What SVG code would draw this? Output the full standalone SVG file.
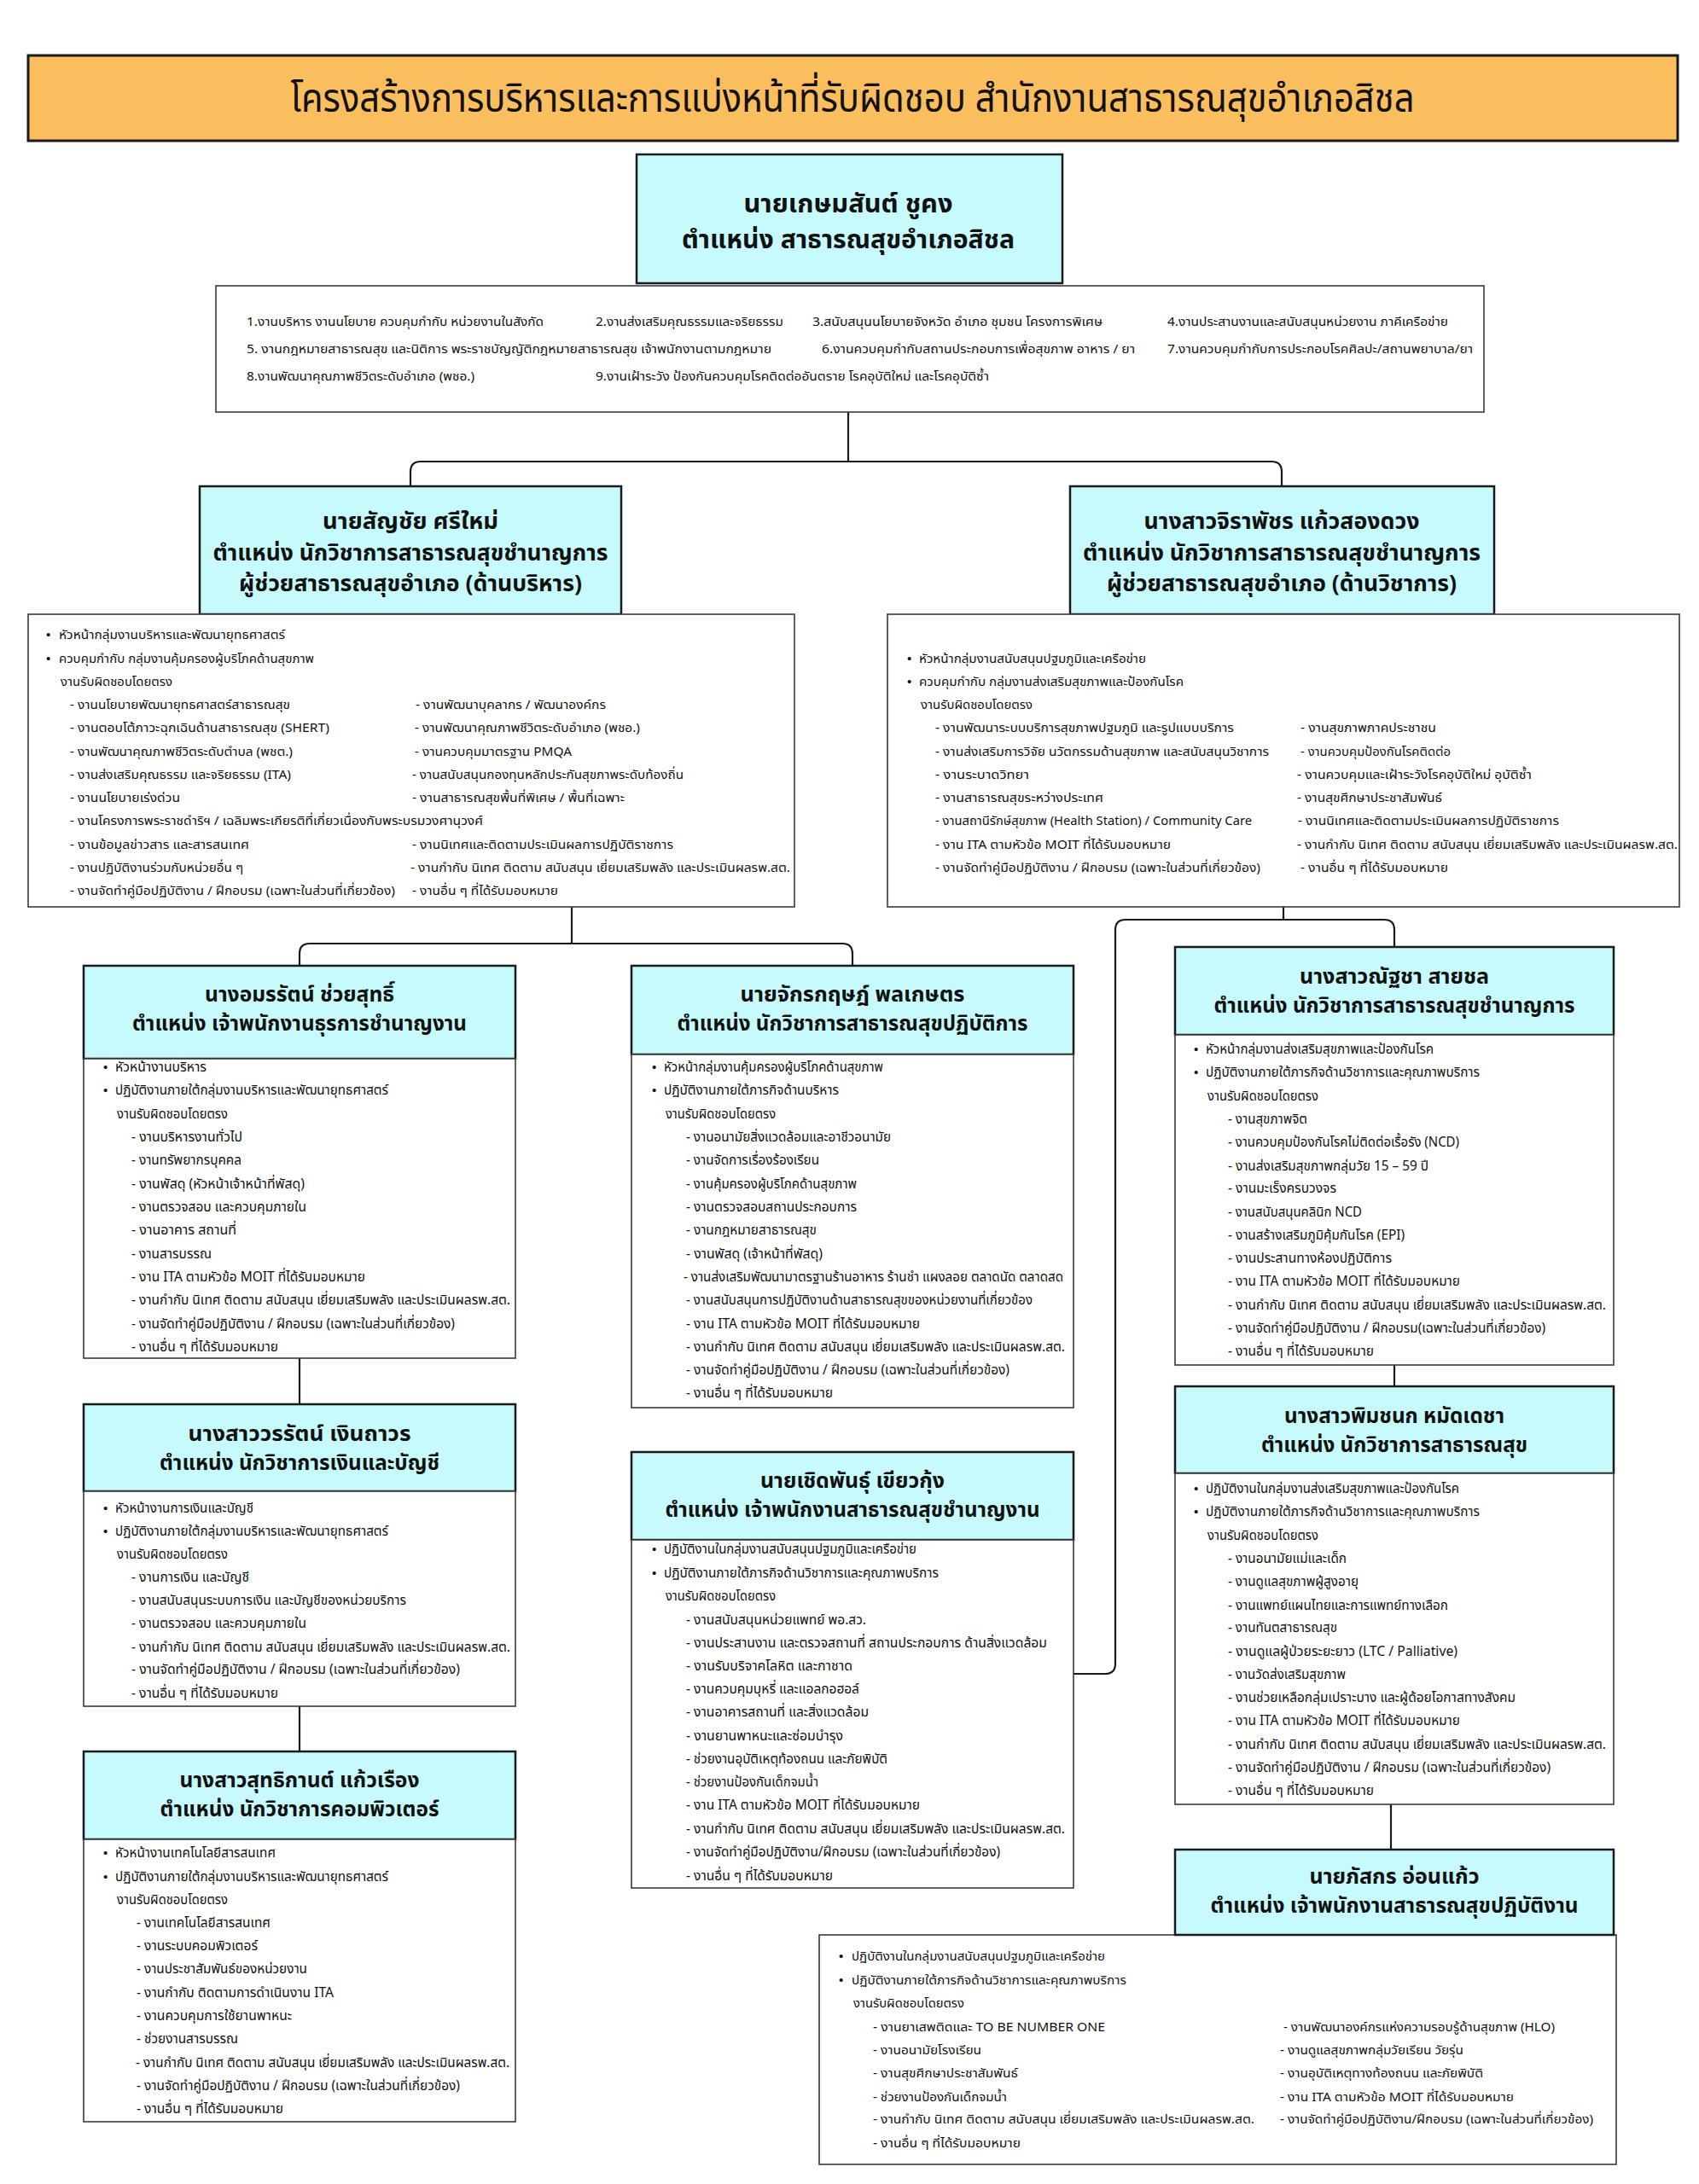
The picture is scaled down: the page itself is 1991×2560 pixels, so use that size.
<svg xmlns="http://www.w3.org/2000/svg" width="1991" height="2560" viewBox="0 0 1991 2560">
<style>
.bg{fill:#ffffff}
.ttl{fill:#FBBE5E;stroke:#1a1a1a;stroke-width:3}
.hd{fill:#C6FAFC;stroke:#1a1a1a;stroke-width:2.5}
.dt{fill:#ffffff;stroke:#3a3a3a;stroke-width:1.6}
.ln{fill:none;stroke:#1a1a1a;stroke-width:2.2}
text{font-family:"Noto Sans Thai","Noto Sans Thai UI","Noto Sans","DejaVu Sans",sans-serif;fill:#111}
.t{font-size:46px}
.h1{font-size:30px;font-weight:bold;text-anchor:middle}
.h2{font-size:26px;font-weight:bold;text-anchor:middle}
.h3{font-size:24.5px;font-weight:bold;text-anchor:middle}
.c{font-size:14.5px}
.b{font-size:16px}
.u{font-family:"Liberation Sans",sans-serif;font-size:15px}
</style>
<rect class="bg" x="0" y="0" width="1991" height="2560"/>

<g id="connectors">
<path class="ln" d="M994 483 V541"/>
<path class="ln" d="M481 570 V553 Q481 541 493 541 H1490 Q1502 541 1502 553 V570"/>
<path class="ln" d="M670 1063 V1106"/>
<path class="ln" d="M351 1132 V1118 Q351 1106 363 1106 H987 Q999 1106 999 1118 V1132"/>
<path class="ln" d="M1504 1063 V1078"/>
<path class="ln" d="M1258 1962 H1295 Q1307 1962 1307 1950 V1090 Q1307 1078 1319 1078 H1622 Q1634 1078 1634 1090 V1110"/>
<path class="ln" d="M351 1592 V1646"/>
<path class="ln" d="M351 2000 V2053"/>
<path class="ln" d="M1634 1600 V1625"/>
<path class="ln" d="M1630 2115 V2168"/>
</g>

<g id="title">
<rect class="ttl" x="33" y="65" width="1933" height="100"/>
<text class="t" x="999" y="131" text-anchor="middle" textLength="1317" lengthAdjust="spacingAndGlyphs">โครงสร้างการบริหารและการแบ่งหน้าที่รับผิดชอบ สำนักงานสาธารณสุขอำเภอสิชล</text>
</g>

<g id="node-kasemsan">
<rect class="hd" x="746" y="181" width="499" height="151"/>
<text class="h1" x="994" y="249" textLength="245" lengthAdjust="spacingAndGlyphs">นายเกษมสันต์  ชูคง</text>
<text class="h1" x="994" y="291" textLength="390" lengthAdjust="spacingAndGlyphs">ตำแหน่ง สาธารณสุขอำเภอสิชล</text>
<rect class="dt" x="253" y="335" width="1486" height="148"/>
<text class="c" x="289" y="382" textLength="348" lengthAdjust="spacingAndGlyphs">1.งานบริหาร งานนโยบาย ควบคุมกำกับ หน่วยงานในสังกัด</text>
<text class="c" x="698" y="382" textLength="220" lengthAdjust="spacingAndGlyphs">2.งานส่งเสริมคุณธรรมและจริยธรรม</text>
<text class="c" x="952" y="382" textLength="340" lengthAdjust="spacingAndGlyphs">3.สนับสนุนนโยบายจังหวัด อำเภอ ชุมชน โครงการพิเศษ</text>
<text class="c" x="1368" y="382" textLength="329" lengthAdjust="spacingAndGlyphs">4.งานประสานงานและสนับสนุนหน่วยงาน ภาคีเครือข่าย</text>
<text class="c" x="289" y="414" textLength="615" lengthAdjust="spacingAndGlyphs">5. งานกฎหมายสาธารณสุข และนิติการ พระราชบัญญัติกฎหมายสาธารณสุข  เจ้าพนักงานตามกฎหมาย</text>
<text class="c" x="963" y="414" textLength="367" lengthAdjust="spacingAndGlyphs">6.งานควบคุมกำกับสถานประกอบการเพื่อสุขภาพ อาหาร / ยา</text>
<text class="c" x="1368" y="414" textLength="358" lengthAdjust="spacingAndGlyphs">7.งานควบคุมกำกับการประกอบโรคศิลปะ/สถานพยาบาล/ยา</text>
<text class="c" x="289" y="446" textLength="267" lengthAdjust="spacingAndGlyphs">8.งานพัฒนาคุณภาพชีวิตระดับอำเภอ (พชอ.)</text>
<text class="c" x="698" y="446" textLength="461" lengthAdjust="spacingAndGlyphs">9.งานเฝ้าระวัง ป้องกันควบคุมโรคติดต่ออันตราย โรคอุบัติใหม่ และโรคอุบัติซ้ำ</text>
</g>

<g id="node-sanchai">
<rect class="hd" x="234" y="570" width="494" height="150"/>
<text class="h2" x="481" y="620" textLength="206" lengthAdjust="spacingAndGlyphs">นายสัญชัย  ศรีใหม่</text>
<text class="h2" x="481" y="657" textLength="463" lengthAdjust="spacingAndGlyphs">ตำแหน่ง นักวิชาการสาธารณสุขชำนาญการ</text>
<text class="h2" x="481" y="693" textLength="402" lengthAdjust="spacingAndGlyphs">ผู้ช่วยสาธารณสุขอำเภอ (ด้านบริหาร)</text>
<rect class="dt" x="33" y="720" width="898" height="343"/>
<text class="u" x="54" y="748.5">•</text>
<text class="c" x="69" y="748.5" textLength="265" lengthAdjust="spacingAndGlyphs">หัวหน้ากลุ่มงานบริหารและพัฒนายุทธศาสตร์</text>
<text class="u" x="54" y="776.5">•</text>
<text class="c" x="69" y="776.5" textLength="299" lengthAdjust="spacingAndGlyphs">ควบคุมกำกับ กลุ่มงานคุ้มครองผู้บริโภคด้านสุขภาพ</text>
<text class="c" x="71" y="803.5" textLength="131" lengthAdjust="spacingAndGlyphs">งานรับผิดชอบโดยตรง</text>
<text class="c" x="82" y="830.5" textLength="258" lengthAdjust="spacingAndGlyphs">- งานนโยบายพัฒนายุทธศาสตร์สาธารณสุข</text>
<text class="c" x="487" y="830.5" textLength="223" lengthAdjust="spacingAndGlyphs">- งานพัฒนาบุคลากร / พัฒนาองค์กร</text>
<text class="c" x="82" y="857.5" textLength="304" lengthAdjust="spacingAndGlyphs">- งานตอบโต้ภาวะฉุกเฉินด้านสาธารณสุข (SHERT)</text>
<text class="c" x="486" y="857.5" textLength="264" lengthAdjust="spacingAndGlyphs">- งานพัฒนาคุณภาพชีวิตระดับอำเภอ (พชอ.)</text>
<text class="c" x="82" y="885.5" textLength="261" lengthAdjust="spacingAndGlyphs">- งานพัฒนาคุณภาพชีวิตระดับตำบล (พชต.)</text>
<text class="c" x="486" y="885.5" textLength="184" lengthAdjust="spacingAndGlyphs">- งานควบคุมมาตรฐาน PMQA</text>
<text class="c" x="82" y="912.5" textLength="259" lengthAdjust="spacingAndGlyphs">- งานส่งเสริมคุณธรรม และจริยธรรม (ITA)</text>
<text class="c" x="483" y="912.5" textLength="318" lengthAdjust="spacingAndGlyphs">- งานสนับสนุนกองทุนหลักประกันสุขภาพระดับท้องถิ่น</text>
<text class="c" x="82" y="939.5" textLength="129" lengthAdjust="spacingAndGlyphs">- งานนโยบายเร่งด่วน</text>
<text class="c" x="483" y="939.5" textLength="249" lengthAdjust="spacingAndGlyphs">- งานสาธารณสุขพื้นที่พิเศษ / พื้นที่เฉพาะ</text>
<text class="c" x="82" y="966.5" textLength="484" lengthAdjust="spacingAndGlyphs">- งานโครงการพระราชดำริฯ / เฉลิมพระเกียรติที่เกี่ยวเนื่องกับพระบรมวงศานุวงศ์</text>
<text class="c" x="82" y="994.5" textLength="210" lengthAdjust="spacingAndGlyphs">- งานข้อมูลข่าวสาร และสารสนเทศ</text>
<text class="c" x="483" y="994.5" textLength="306" lengthAdjust="spacingAndGlyphs">- งานนิเทศและติดตามประเมินผลการปฏิบัติราชการ</text>
<text class="c" x="82" y="1021.5" textLength="203" lengthAdjust="spacingAndGlyphs">- งานปฏิบัติงานร่วมกับหน่วยอื่น ๆ</text>
<text class="c" x="481" y="1021.5" textLength="445" lengthAdjust="spacingAndGlyphs">- งานกำกับ นิเทศ ติดตาม สนับสนุน เยี่ยมเสริมพลัง และประเมินผลรพ.สต.</text>
<text class="c" x="82" y="1048.5" textLength="381" lengthAdjust="spacingAndGlyphs">- งานจัดทำคู่มือปฏิบัติงาน / ฝึกอบรม (เฉพาะในส่วนที่เกี่ยวข้อง)</text>
<text class="c" x="483" y="1048.5" textLength="171" lengthAdjust="spacingAndGlyphs">- งานอื่น ๆ ที่ได้รับมอบหมาย</text>
</g>

<g id="node-jiraphat">
<rect class="hd" x="1254" y="570" width="497" height="150"/>
<text class="h2" x="1502" y="620" textLength="323" lengthAdjust="spacingAndGlyphs">นางสาวจิราพัชร  แก้วสองดวง</text>
<text class="h2" x="1502" y="657" textLength="466" lengthAdjust="spacingAndGlyphs">ตำแหน่ง นักวิชาการสาธารณสุขชำนาญการ</text>
<text class="h2" x="1502" y="693" textLength="410" lengthAdjust="spacingAndGlyphs">ผู้ช่วยสาธารณสุขอำเภอ (ด้านวิชาการ)</text>
<rect class="dt" x="1040" y="720" width="928" height="343"/>
<text class="u" x="1063" y="776.5">•</text>
<text class="c" x="1077" y="776.5" textLength="266" lengthAdjust="spacingAndGlyphs">หัวหน้ากลุ่มงานสนับสนุนปฐมภูมิและเครือข่าย</text>
<text class="u" x="1063" y="803.5">•</text>
<text class="c" x="1077" y="803.5" textLength="310" lengthAdjust="spacingAndGlyphs">ควบคุมกำกับ กลุ่มงานส่งเสริมสุขภาพและป้องกันโรค</text>
<text class="c" x="1079" y="830.5" textLength="131" lengthAdjust="spacingAndGlyphs">งานรับผิดชอบโดยตรง</text>
<text class="c" x="1096" y="857.5" textLength="350" lengthAdjust="spacingAndGlyphs">- งานพัฒนาระบบบริการสุขภาพปฐมภูมิ และรูปแบบบริการ</text>
<text class="c" x="1524" y="857.5" textLength="159" lengthAdjust="spacingAndGlyphs">- งานสุขภาพภาคประชาชน</text>
<text class="c" x="1096" y="885.5" textLength="391" lengthAdjust="spacingAndGlyphs">- งานส่งเสริมการวิจัย นวัตกรรมด้านสุขภาพ และสนับสนุนวิชาการ</text>
<text class="c" x="1524" y="885.5" textLength="176" lengthAdjust="spacingAndGlyphs">- งานควบคุมป้องกันโรคติดต่อ</text>
<text class="c" x="1096" y="912.5" textLength="110" lengthAdjust="spacingAndGlyphs">- งานระบาดวิทยา</text>
<text class="c" x="1520" y="912.5" textLength="275" lengthAdjust="spacingAndGlyphs">- งานควบคุมและเฝ้าระวังโรคอุบัติใหม่ อุบัติซ้ำ</text>
<text class="c" x="1096" y="939.5" textLength="197" lengthAdjust="spacingAndGlyphs">- งานสาธารณสุขระหว่างประเทศ</text>
<text class="c" x="1520" y="939.5" textLength="170" lengthAdjust="spacingAndGlyphs">- งานสุขศึกษาประชาสัมพันธ์</text>
<text class="c" x="1096" y="966.5" textLength="371" lengthAdjust="spacingAndGlyphs">- งานสถานีรักษ์สุขภาพ (Health Station) / Community Care</text>
<text class="c" x="1521" y="966.5" textLength="306" lengthAdjust="spacingAndGlyphs">- งานนิเทศและติดตามประเมินผลการปฏิบัติราชการ</text>
<text class="c" x="1096" y="994.5" textLength="276" lengthAdjust="spacingAndGlyphs">- งาน ITA ตามหัวข้อ MOIT ที่ได้รับมอบหมาย</text>
<text class="c" x="1520" y="994.5" textLength="446" lengthAdjust="spacingAndGlyphs">- งานกำกับ นิเทศ ติดตาม สนับสนุน เยี่ยมเสริมพลัง และประเมินผลรพ.สต.</text>
<text class="c" x="1096" y="1021.5" textLength="381" lengthAdjust="spacingAndGlyphs">- งานจัดทำคู่มือปฏิบัติงาน / ฝึกอบรม (เฉพาะในส่วนที่เกี่ยวข้อง)</text>
<text class="c" x="1524" y="1021.5" textLength="173" lengthAdjust="spacingAndGlyphs">- งานอื่น ๆ ที่ได้รับมอบหมาย</text>
</g>

<g id="node-amonrat">
<rect class="hd" x="98" y="1132" width="506" height="109"/>
<text class="h3" x="351" y="1174" textLength="222" lengthAdjust="spacingAndGlyphs">นางอมรรัตน์  ช่วยสุทธิ์</text>
<text class="h3" x="351" y="1208" textLength="392" lengthAdjust="spacingAndGlyphs">ตำแหน่ง เจ้าพนักงานธุรการชำนาญงาน</text>
<rect class="dt" x="98" y="1241" width="506" height="351"/>
<text class="u" x="121" y="1256">•</text>
<text class="b" x="135" y="1256" textLength="107" lengthAdjust="spacingAndGlyphs">หัวหน้างานบริหาร</text>
<text class="u" x="121" y="1283">•</text>
<text class="b" x="135" y="1283" textLength="320" lengthAdjust="spacingAndGlyphs">ปฏิบัติงานภายใต้กลุ่มงานบริหารและพัฒนายุทธศาสตร์</text>
<text class="b" x="137" y="1311" textLength="130" lengthAdjust="spacingAndGlyphs">งานรับผิดชอบโดยตรง</text>
<text class="b" x="154" y="1338" textLength="130" lengthAdjust="spacingAndGlyphs">- งานบริหารงานทั่วไป</text>
<text class="b" x="154" y="1365" textLength="129" lengthAdjust="spacingAndGlyphs">- งานทรัพยากรบุคคล</text>
<text class="b" x="154" y="1393" textLength="203" lengthAdjust="spacingAndGlyphs">- งานพัสดุ (หัวหน้าเจ้าหน้าที่พัสดุ)</text>
<text class="b" x="154" y="1420" textLength="205" lengthAdjust="spacingAndGlyphs">- งานตรวจสอบ และควบคุมภายใน</text>
<text class="b" x="154" y="1447" textLength="123" lengthAdjust="spacingAndGlyphs">- งานอาคาร สถานที่</text>
<text class="b" x="154" y="1475" textLength="94" lengthAdjust="spacingAndGlyphs">- งานสารบรรณ</text>
<text class="b" x="154" y="1502" textLength="274" lengthAdjust="spacingAndGlyphs">- งาน ITA ตามหัวข้อ MOIT ที่ได้รับมอบหมาย</text>
<text class="b" x="154" y="1529" textLength="444" lengthAdjust="spacingAndGlyphs">- งานกำกับ นิเทศ ติดตาม สนับสนุน เยี่ยมเสริมพลัง และประเมินผลรพ.สต.</text>
<text class="b" x="154" y="1557" textLength="379" lengthAdjust="spacingAndGlyphs">- งานจัดทำคู่มือปฏิบัติงาน / ฝึกอบรม (เฉพาะในส่วนที่เกี่ยวข้อง)</text>
<text class="b" x="154" y="1584" textLength="172" lengthAdjust="spacingAndGlyphs">- งานอื่น ๆ ที่ได้รับมอบหมาย</text>
</g>

<g id="node-worrarat">
<rect class="hd" x="98" y="1646" width="506" height="102"/>
<text class="h3" x="351" y="1689" textLength="261" lengthAdjust="spacingAndGlyphs">นางสาววรรัตน์  เงินถาวร</text>
<text class="h3" x="351" y="1723" textLength="328" lengthAdjust="spacingAndGlyphs">ตำแหน่ง นักวิชาการเงินและบัญชี</text>
<rect class="dt" x="98" y="1748" width="506" height="252"/>
<text class="u" x="121" y="1773">•</text>
<text class="b" x="135" y="1773" textLength="162" lengthAdjust="spacingAndGlyphs">หัวหน้างานการเงินและบัญชี</text>
<text class="u" x="121" y="1800">•</text>
<text class="b" x="135" y="1800" textLength="320" lengthAdjust="spacingAndGlyphs">ปฏิบัติงานภายใต้กลุ่มงานบริหารและพัฒนายุทธศาสตร์</text>
<text class="b" x="137" y="1827" textLength="130" lengthAdjust="spacingAndGlyphs">งานรับผิดชอบโดยตรง</text>
<text class="b" x="154" y="1854" textLength="138" lengthAdjust="spacingAndGlyphs">- งานการเงิน และบัญชี</text>
<text class="b" x="154" y="1881" textLength="322" lengthAdjust="spacingAndGlyphs">- งานสนับสนุนระบบการเงิน และบัญชีของหน่วยบริการ</text>
<text class="b" x="154" y="1908" textLength="205" lengthAdjust="spacingAndGlyphs">- งานตรวจสอบ และควบคุมภายใน</text>
<text class="b" x="154" y="1936" textLength="444" lengthAdjust="spacingAndGlyphs">- งานกำกับ นิเทศ ติดตาม สนับสนุน เยี่ยมเสริมพลัง และประเมินผลรพ.สต.</text>
<text class="b" x="154" y="1962" textLength="385" lengthAdjust="spacingAndGlyphs">- งานจัดทำคู่มือปฏิบัติงาน / ฝึกอบรม (เฉพาะในส่วนที่เกี่ยวข้อง)</text>
<text class="b" x="154" y="1990" textLength="172" lengthAdjust="spacingAndGlyphs">- งานอื่น ๆ ที่ได้รับมอบหมาย</text>
</g>

<g id="node-suthikan">
<rect class="hd" x="98" y="2053" width="506" height="103"/>
<text class="h3" x="351" y="2095" textLength="281" lengthAdjust="spacingAndGlyphs">นางสาวสุทธิกานต์  แก้วเรือง</text>
<text class="h3" x="351" y="2129" textLength="327" lengthAdjust="spacingAndGlyphs">ตำแหน่ง นักวิชาการคอมพิวเตอร์</text>
<rect class="dt" x="98" y="2156" width="506" height="331"/>
<text class="u" x="121" y="2177">•</text>
<text class="b" x="135" y="2177" textLength="188" lengthAdjust="spacingAndGlyphs">หัวหน้างานเทคโนโลยีสารสนเทศ</text>
<text class="u" x="121" y="2205">•</text>
<text class="b" x="135" y="2205" textLength="320" lengthAdjust="spacingAndGlyphs">ปฏิบัติงานภายใต้กลุ่มงานบริหารและพัฒนายุทธศาสตร์</text>
<text class="b" x="137" y="2232" textLength="130" lengthAdjust="spacingAndGlyphs">งานรับผิดชอบโดยตรง</text>
<text class="b" x="160" y="2259" textLength="157" lengthAdjust="spacingAndGlyphs">- งานเทคโนโลยีสารสนเทศ</text>
<text class="b" x="160" y="2286" textLength="142" lengthAdjust="spacingAndGlyphs">- งานระบบคอมพิวเตอร์</text>
<text class="b" x="160" y="2313" textLength="200" lengthAdjust="spacingAndGlyphs">- งานประชาสัมพันธ์ของหน่วยงาน</text>
<text class="b" x="160" y="2341" textLength="231" lengthAdjust="spacingAndGlyphs">- งานกำกับ ติดตามการดำเนินงาน ITA</text>
<text class="b" x="160" y="2368" textLength="182" lengthAdjust="spacingAndGlyphs">- งานควบคุมการใช้ยานพาหนะ</text>
<text class="b" x="160" y="2395" textLength="119" lengthAdjust="spacingAndGlyphs">- ช่วยงานสารบรรณ</text>
<text class="b" x="159" y="2423" textLength="438" lengthAdjust="spacingAndGlyphs">- งานกำกับ นิเทศ ติดตาม สนับสนุน เยี่ยมเสริมพลัง และประเมินผลรพ.สต.</text>
<text class="b" x="160" y="2450" textLength="379" lengthAdjust="spacingAndGlyphs">- งานจัดทำคู่มือปฏิบัติงาน / ฝึกอบรม (เฉพาะในส่วนที่เกี่ยวข้อง)</text>
<text class="b" x="160" y="2477" textLength="172" lengthAdjust="spacingAndGlyphs">- งานอื่น ๆ ที่ได้รับมอบหมาย</text>
</g>

<g id="node-jakkrit">
<rect class="hd" x="740" y="1132" width="518" height="104"/>
<text class="h3" x="999" y="1174" textLength="263" lengthAdjust="spacingAndGlyphs">นายจักรกฤษฎ์  พลเกษตร</text>
<text class="h3" x="999" y="1208" textLength="411" lengthAdjust="spacingAndGlyphs">ตำแหน่ง นักวิชาการสาธารณสุขปฏิบัติการ</text>
<rect class="dt" x="740" y="1236" width="518" height="414"/>
<text class="u" x="764" y="1256">•</text>
<text class="b" x="778" y="1256" textLength="257" lengthAdjust="spacingAndGlyphs">หัวหน้ากลุ่มงานคุ้มครองผู้บริโภคด้านสุขภาพ</text>
<text class="u" x="764" y="1283">•</text>
<text class="b" x="778" y="1283" textLength="205" lengthAdjust="spacingAndGlyphs">ปฏิบัติงานภายใต้ภารกิจด้านบริหาร</text>
<text class="b" x="780" y="1311" textLength="129" lengthAdjust="spacingAndGlyphs">งานรับผิดชอบโดยตรง</text>
<text class="b" x="804" y="1338" textLength="240" lengthAdjust="spacingAndGlyphs">- งานอนามัยสิ่งแวดล้อมและอาชีวอนามัย</text>
<text class="b" x="804" y="1365" textLength="156" lengthAdjust="spacingAndGlyphs">- งานจัดการเรื่องร้องเรียน</text>
<text class="b" x="804" y="1393" textLength="200" lengthAdjust="spacingAndGlyphs">- งานคุ้มครองผู้บริโภคด้านสุขภาพ</text>
<text class="b" x="804" y="1420" textLength="200" lengthAdjust="spacingAndGlyphs">- งานตรวจสอบสถานประกอบการ</text>
<text class="b" x="804" y="1447" textLength="153" lengthAdjust="spacingAndGlyphs">- งานกฎหมายสาธารณสุข</text>
<text class="b" x="804" y="1475" textLength="160" lengthAdjust="spacingAndGlyphs">- งานพัสดุ (เจ้าหน้าที่พัสดุ)</text>
<text class="b" x="801" y="1502" textLength="445" lengthAdjust="spacingAndGlyphs">- งานส่งเสริมพัฒนามาตรฐานร้านอาหาร ร้านชำ แผงลอย ตลาดนัด ตลาดสด</text>
<text class="b" x="804" y="1529" textLength="406" lengthAdjust="spacingAndGlyphs">- งานสนับสนุนการปฏิบัติงานด้านสาธารณสุขของหน่วยงานที่เกี่ยวข้อง</text>
<text class="b" x="804" y="1557" textLength="274" lengthAdjust="spacingAndGlyphs">- งาน ITA ตามหัวข้อ MOIT ที่ได้รับมอบหมาย</text>
<text class="b" x="804" y="1584" textLength="444" lengthAdjust="spacingAndGlyphs">- งานกำกับ นิเทศ ติดตาม สนับสนุน เยี่ยมเสริมพลัง และประเมินผลรพ.สต.</text>
<text class="b" x="804" y="1611" textLength="379" lengthAdjust="spacingAndGlyphs">- งานจัดทำคู่มือปฏิบัติงาน / ฝึกอบรม (เฉพาะในส่วนที่เกี่ยวข้อง)</text>
<text class="b" x="804" y="1638" textLength="172" lengthAdjust="spacingAndGlyphs">- งานอื่น ๆ ที่ได้รับมอบหมาย</text>
</g>

<g id="node-choetphan">
<rect class="hd" x="740" y="1702" width="518" height="103"/>
<text class="h3" x="999" y="1744" textLength="216" lengthAdjust="spacingAndGlyphs">นายเชิดพันธุ์  เขียวกุ้ง</text>
<text class="h3" x="999" y="1778" textLength="439" lengthAdjust="spacingAndGlyphs">ตำแหน่ง เจ้าพนักงานสาธารณสุขชำนาญงาน</text>
<rect class="dt" x="740" y="1805" width="518" height="408"/>
<text class="u" x="764" y="1821">•</text>
<text class="b" x="778" y="1821" textLength="296" lengthAdjust="spacingAndGlyphs">ปฏิบัติงานในกลุ่มงานสนับสนุนปฐมภูมิและเครือข่าย</text>
<text class="u" x="764" y="1849">•</text>
<text class="b" x="778" y="1849" textLength="322" lengthAdjust="spacingAndGlyphs">ปฏิบัติงานภายใต้ภารกิจด้านวิชาการและคุณภาพบริการ</text>
<text class="b" x="780" y="1876" textLength="129" lengthAdjust="spacingAndGlyphs">งานรับผิดชอบโดยตรง</text>
<text class="b" x="804" y="1904" textLength="211" lengthAdjust="spacingAndGlyphs">- งานสนับสนุนหน่วยแพทย์ พอ.สว.</text>
<text class="b" x="804" y="1931" textLength="423" lengthAdjust="spacingAndGlyphs">- งานประสานงาน และตรวจสถานที่ สถานประกอบการ ด้านสิ่งแวดล้อม</text>
<text class="b" x="804" y="1958" textLength="195" lengthAdjust="spacingAndGlyphs">- งานรับบริจาคโลหิต และกาชาด</text>
<text class="b" x="804" y="1985" textLength="203" lengthAdjust="spacingAndGlyphs">- งานควบคุมบุหรี่ และแอลกอฮอล์</text>
<text class="b" x="804" y="2012" textLength="214" lengthAdjust="spacingAndGlyphs">- งานอาคารสถานที่ และสิ่งแวดล้อม</text>
<text class="b" x="804" y="2040" textLength="184" lengthAdjust="spacingAndGlyphs">- งานยานพาหนะและซ่อมบำรุง</text>
<text class="b" x="804" y="2067" textLength="236" lengthAdjust="spacingAndGlyphs">- ช่วยงานอุบัติเหตุท้องถนน และภัยพิบัติ</text>
<text class="b" x="804" y="2094" textLength="155" lengthAdjust="spacingAndGlyphs">- ช่วยงานป้องกันเด็กจมน้ำ</text>
<text class="b" x="804" y="2121" textLength="274" lengthAdjust="spacingAndGlyphs">- งาน ITA ตามหัวข้อ MOIT ที่ได้รับมอบหมาย</text>
<text class="b" x="804" y="2149" textLength="444" lengthAdjust="spacingAndGlyphs">- งานกำกับ นิเทศ ติดตาม สนับสนุน เยี่ยมเสริมพลัง และประเมินผลรพ.สต.</text>
<text class="b" x="804" y="2176" textLength="368" lengthAdjust="spacingAndGlyphs">- งานจัดทำคู่มือปฏิบัติงาน/ฝึกอบรม (เฉพาะในส่วนที่เกี่ยวข้อง)</text>
<text class="b" x="804" y="2204" textLength="172" lengthAdjust="spacingAndGlyphs">- งานอื่น ๆ ที่ได้รับมอบหมาย</text>
</g>

<g id="node-natthida">
<rect class="hd" x="1377" y="1110" width="514" height="103"/>
<text class="h3" x="1634" y="1153" textLength="222" lengthAdjust="spacingAndGlyphs">นางสาวณัฐชา  สายชล</text>
<text class="h3" x="1634" y="1187" textLength="423" lengthAdjust="spacingAndGlyphs">ตำแหน่ง นักวิชาการสาธารณสุขชำนาญการ</text>
<rect class="dt" x="1377" y="1213" width="514" height="387"/>
<text class="u" x="1399" y="1235">•</text>
<text class="b" x="1413" y="1235" textLength="267" lengthAdjust="spacingAndGlyphs">หัวหน้ากลุ่มงานส่งเสริมสุขภาพและป้องกันโรค</text>
<text class="u" x="1399" y="1262">•</text>
<text class="b" x="1413" y="1262" textLength="321" lengthAdjust="spacingAndGlyphs">ปฏิบัติงานภายใต้ภารกิจด้านวิชาการและคุณภาพบริการ</text>
<text class="b" x="1415" y="1290" textLength="130" lengthAdjust="spacingAndGlyphs">งานรับผิดชอบโดยตรง</text>
<text class="b" x="1439" y="1317" textLength="93" lengthAdjust="spacingAndGlyphs">- งานสุขภาพจิต</text>
<text class="b" x="1439" y="1344" textLength="271" lengthAdjust="spacingAndGlyphs">- งานควบคุมป้องกันโรคไม่ติดต่อเรื้อรัง (NCD)</text>
<text class="b" x="1439" y="1372" textLength="235" lengthAdjust="spacingAndGlyphs">- งานส่งเสริมสุขภาพกลุ่มวัย 15 – 59 ปี</text>
<text class="b" x="1439" y="1398" textLength="127" lengthAdjust="spacingAndGlyphs">- งานมะเร็งครบวงจร</text>
<text class="b" x="1439" y="1426" textLength="157" lengthAdjust="spacingAndGlyphs">- งานสนับสนุนคลินิก NCD</text>
<text class="b" x="1439" y="1453" textLength="207" lengthAdjust="spacingAndGlyphs">- งานสร้างเสริมภูมิคุ้มกันโรค (EPI)</text>
<text class="b" x="1439" y="1480" textLength="192" lengthAdjust="spacingAndGlyphs">- งานประสานทางห้องปฏิบัติการ</text>
<text class="b" x="1439" y="1507" textLength="272" lengthAdjust="spacingAndGlyphs">- งาน ITA ตามหัวข้อ MOIT ที่ได้รับมอบหมาย</text>
<text class="b" x="1439" y="1535" textLength="443" lengthAdjust="spacingAndGlyphs">- งานกำกับ นิเทศ ติดตาม สนับสนุน เยี่ยมเสริมพลัง และประเมินผลรพ.สต.</text>
<text class="b" x="1439" y="1562" textLength="372" lengthAdjust="spacingAndGlyphs">- งานจัดทำคู่มือปฏิบัติงาน / ฝึกอบรม(เฉพาะในส่วนที่เกี่ยวข้อง)</text>
<text class="b" x="1439" y="1589" textLength="171" lengthAdjust="spacingAndGlyphs">- งานอื่น ๆ ที่ได้รับมอบหมาย</text>
</g>

<g id="node-phimchanok">
<rect class="hd" x="1377" y="1625" width="514" height="102"/>
<text class="h3" x="1634" y="1668" textLength="258" lengthAdjust="spacingAndGlyphs">นางสาวพิมชนก  หมัดเดชา</text>
<text class="h3" x="1634" y="1702" textLength="312" lengthAdjust="spacingAndGlyphs">ตำแหน่ง นักวิชาการสาธารณสุข</text>
<rect class="dt" x="1377" y="1727" width="514" height="388"/>
<text class="u" x="1399" y="1750">•</text>
<text class="b" x="1413" y="1750" textLength="297" lengthAdjust="spacingAndGlyphs">ปฏิบัติงานในกลุ่มงานส่งเสริมสุขภาพและป้องกันโรค</text>
<text class="u" x="1399" y="1777">•</text>
<text class="b" x="1413" y="1777" textLength="321" lengthAdjust="spacingAndGlyphs">ปฏิบัติงานภายใต้ภารกิจด้านวิชาการและคุณภาพบริการ</text>
<text class="b" x="1415" y="1805" textLength="130" lengthAdjust="spacingAndGlyphs">งานรับผิดชอบโดยตรง</text>
<text class="b" x="1439" y="1832" textLength="139" lengthAdjust="spacingAndGlyphs">- งานอนามัยแม่และเด็ก</text>
<text class="b" x="1439" y="1859" textLength="153" lengthAdjust="spacingAndGlyphs">- งานดูแลสุขภาพผู้สูงอายุ</text>
<text class="b" x="1439" y="1887" textLength="258" lengthAdjust="spacingAndGlyphs">- งานแพทย์แผนไทยและการแพทย์ทางเลือก</text>
<text class="b" x="1439" y="1913" textLength="128" lengthAdjust="spacingAndGlyphs">- งานทันตสาธารณสุข</text>
<text class="b" x="1439" y="1941" textLength="269" lengthAdjust="spacingAndGlyphs">- งานดูแลผู้ป่วยระยะยาว (LTC / Palliative)</text>
<text class="b" x="1439" y="1968" textLength="138" lengthAdjust="spacingAndGlyphs">- งานวัดส่งเสริมสุขภาพ</text>
<text class="b" x="1439" y="1995" textLength="337" lengthAdjust="spacingAndGlyphs">- งานช่วยเหลือกลุ่มเปราะบาง และผู้ด้อยโอกาสทางสังคม</text>
<text class="b" x="1439" y="2022" textLength="272" lengthAdjust="spacingAndGlyphs">- งาน ITA ตามหัวข้อ MOIT ที่ได้รับมอบหมาย</text>
<text class="b" x="1439" y="2050" textLength="443" lengthAdjust="spacingAndGlyphs">- งานกำกับ นิเทศ ติดตาม สนับสนุน เยี่ยมเสริมพลัง และประเมินผลรพ.สต.</text>
<text class="b" x="1439" y="2077" textLength="378" lengthAdjust="spacingAndGlyphs">- งานจัดทำคู่มือปฏิบัติงาน / ฝึกอบรม (เฉพาะในส่วนที่เกี่ยวข้อง)</text>
<text class="b" x="1439" y="2104" textLength="171" lengthAdjust="spacingAndGlyphs">- งานอื่น ๆ ที่ได้รับมอบหมาย</text>
</g>

<g id="node-phatsakorn">
<rect class="dt" x="960" y="2268" width="934" height="269"/>
<rect class="hd" x="1377" y="2168" width="514" height="100"/>
<text class="h3" x="1634" y="2208" textLength="199" lengthAdjust="spacingAndGlyphs">นายภัสกร  อ่อนแก้ว</text>
<text class="h3" x="1634" y="2242" textLength="431" lengthAdjust="spacingAndGlyphs">ตำแหน่ง เจ้าพนักงานสาธารณสุขปฏิบัติงาน</text>
<text class="u" x="983" y="2297.5">•</text>
<text class="c" x="998" y="2297.5" textLength="297" lengthAdjust="spacingAndGlyphs">ปฏิบัติงานในกลุ่มงานสนับสนุนปฐมภูมิและเครือข่าย</text>
<text class="u" x="983" y="2325.5">•</text>
<text class="c" x="998" y="2325.5" textLength="322" lengthAdjust="spacingAndGlyphs">ปฏิบัติงานภายใต้ภารกิจด้านวิชาการและคุณภาพบริการ</text>
<text class="c" x="1000" y="2352.5" textLength="130" lengthAdjust="spacingAndGlyphs">งานรับผิดชอบโดยตรง</text>
<text class="c" x="1023" y="2380.5" textLength="272" lengthAdjust="spacingAndGlyphs">- งานยาเสพติดและ TO BE NUMBER ONE</text>
<text class="c" x="1504" y="2380.5" textLength="318" lengthAdjust="spacingAndGlyphs">- งานพัฒนาองค์กรแห่งความรอบรู้ด้านสุขภาพ (HLO)</text>
<text class="c" x="1023" y="2407.5" textLength="127" lengthAdjust="spacingAndGlyphs">- งานอนามัยโรงเรียน</text>
<text class="c" x="1500" y="2407.5" textLength="215" lengthAdjust="spacingAndGlyphs">- งานดูแลสุขภาพกลุ่มวัยเรียน วัยรุ่น</text>
<text class="c" x="1023" y="2434.5" textLength="170" lengthAdjust="spacingAndGlyphs">- งานสุขศึกษาประชาสัมพันธ์</text>
<text class="c" x="1500" y="2434.5" textLength="238" lengthAdjust="spacingAndGlyphs">- งานอุบัติเหตุทางท้องถนน และภัยพิบัติ</text>
<text class="c" x="1023" y="2462.5" textLength="157" lengthAdjust="spacingAndGlyphs">- ช่วยงานป้องกันเด็กจมน้ำ</text>
<text class="c" x="1500" y="2462.5" textLength="274" lengthAdjust="spacingAndGlyphs">- งาน ITA ตามหัวข้อ MOIT ที่ได้รับมอบหมาย</text>
<text class="c" x="1023" y="2488.5" textLength="447" lengthAdjust="spacingAndGlyphs">- งานกำกับ นิเทศ ติดตาม สนับสนุน เยี่ยมเสริมพลัง และประเมินผลรพ.สต.</text>
<text class="c" x="1500" y="2488.5" textLength="367" lengthAdjust="spacingAndGlyphs">- งานจัดทำคู่มือปฏิบัติงาน/ฝึกอบรม (เฉพาะในส่วนที่เกี่ยวข้อง)</text>
<text class="c" x="1023" y="2516.5" textLength="173" lengthAdjust="spacingAndGlyphs">- งานอื่น ๆ ที่ได้รับมอบหมาย</text>
</g>
</svg>
